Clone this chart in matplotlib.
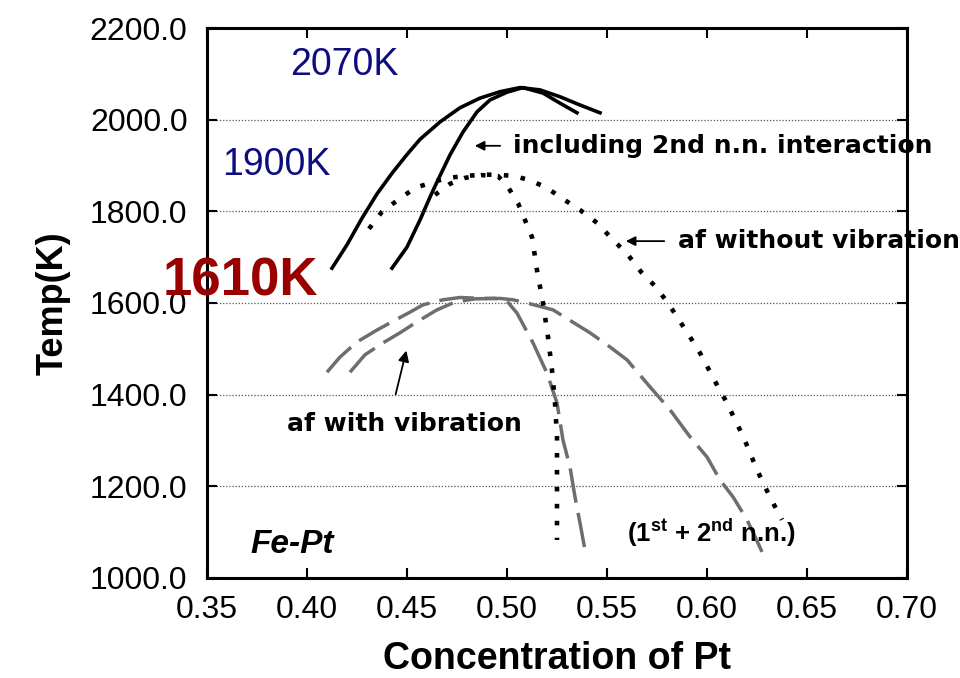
import matplotlib
matplotlib.use("Agg")
import matplotlib.pyplot as plt

plt.rcParams["mathtext.fontset"] = "custom"
plt.rcParams["mathtext.rm"] = "Liberation Sans:bold"
plt.rcParams["mathtext.bf"] = "Liberation Sans:bold"

# ordering temperature vs Pt concentration, Fe-Pt
# solid: including 2nd n.n. interaction
nn2_outer_x = [0.4125, 0.42, 0.4275, 0.435, 0.4425, 0.45, 0.4565, 0.4665, 0.4765,
               0.4865, 0.4965, 0.5065, 0.5165, 0.5265, 0.5365, 0.5465]
nn2_outer_t = [1676, 1727, 1785, 1838, 1883, 1924, 1957, 1995, 2026,
               2047, 2061, 2070, 2065, 2050, 2032, 2015]
nn2_inner_x = [0.4425, 0.45, 0.4565, 0.4615, 0.465, 0.4715, 0.478, 0.485,
               0.4915, 0.5, 0.508, 0.518, 0.5265, 0.535]
nn2_inner_t = [1676, 1722, 1781, 1831, 1864, 1923, 1973, 2017,
               2043, 2060, 2070, 2058, 2036, 2015]

# dotted: af without vibration
novib_outer_x = [0.431, 0.4375, 0.4455, 0.454, 0.463, 0.4705, 0.479, 0.4875,
                 0.4955, 0.5035, 0.5115, 0.52, 0.528, 0.5365, 0.545, 0.5525,
                 0.5605, 0.567, 0.574, 0.5805, 0.586, 0.5915, 0.5965, 0.601,
                 0.6055, 0.61, 0.614, 0.618, 0.6215, 0.625, 0.629, 0.633, 0.6375]
novib_outer_t = [1762, 1799, 1825, 1851, 1864, 1873, 1877, 1880,
                 1880, 1877, 1868, 1851, 1827, 1803, 1775, 1740,
                 1705, 1668, 1637, 1600, 1563, 1526, 1491, 1454,
                 1417, 1382, 1345, 1310, 1273, 1236, 1199, 1164, 1127]
novib_inner_x = [0.464, 0.4715, 0.479, 0.4875, 0.4955, 0.5005, 0.5055, 0.509,
                 0.5125, 0.515, 0.518, 0.5205, 0.5225, 0.524, 0.525, 0.525, 0.525]
novib_inner_t = [1836, 1860, 1873, 1879, 1877, 1853, 1818, 1781,
                 1744, 1672, 1600, 1526, 1454, 1382, 1308, 1199, 1083]

# dashed: af with vibration
vib_outer_x = [0.41, 0.4165, 0.425, 0.435, 0.4425, 0.4515, 0.458, 0.468, 0.4765,
               0.488, 0.4965, 0.503, 0.51, 0.523, 0.5415, 0.5515, 0.56, 0.5715,
               0.5815, 0.5915, 0.6, 0.6065, 0.613, 0.62, 0.6255, 0.6275]
vib_outer_t = [1449, 1482, 1515, 1541, 1559, 1580, 1596, 1607, 1612,
               1610, 1610, 1607, 1600, 1585, 1535, 1504, 1476, 1417,
               1367, 1308, 1264, 1214, 1177, 1127, 1076, 1057]
vib_inner_x = [0.4215, 0.429, 0.438, 0.4465, 0.455, 0.465, 0.474, 0.484, 0.494,
               0.5, 0.505, 0.513, 0.52, 0.525, 0.528, 0.5315, 0.534, 0.5365, 0.539]
vib_inner_t = [1449, 1487, 1513, 1535, 1559, 1585, 1602, 1609, 1610,
               1604, 1578, 1513, 1447, 1382, 1301, 1242, 1177, 1120, 1061]

x_ticks = [0.35, 0.40, 0.45, 0.50, 0.55, 0.60, 0.65, 0.70]
t_ticks = [1000, 1200, 1400, 1600, 1800, 2000, 2200]
grid_t = [1200, 1400, 1600, 1800, 2000]

fig = plt.figure(figsize=(9.6, 6.78), dpi=100)
ax = fig.add_axes([0.2156, 0.1475, 0.7292, 0.8112])

for y in grid_t:
    ax.axhline(y, color="#555555", lw=0.9, ls=(0, (1, 1.5)), zorder=1)

ax.plot(nn2_outer_x, nn2_outer_t, color="black", lw=2.6, zorder=3)
ax.plot(nn2_inner_x, nn2_inner_t, color="black", lw=2.6, zorder=3)
ax.plot(novib_outer_x, novib_outer_t, color="black", lw=3.3,
        ls=(0, (1, 2.7)), dash_capstyle="butt", zorder=3)
ax.plot(novib_inner_x, novib_inner_t, color="black", lw=3.3,
        ls=(0, (1, 2.7)), dash_capstyle="butt", zorder=3)
ax.plot(vib_outer_x, vib_outer_t, color="#6e6e6e", lw=2.5,
        ls=(0, (10, 3)), zorder=2)
ax.plot(vib_inner_x, vib_inner_t, color="#6e6e6e", lw=2.5,
        ls=(0, (10, 3)), zorder=2)

ax.set_xlim(0.35, 0.70)
ax.set_ylim(1000, 2200)
ax.set_xticks(x_ticks)
ax.set_yticks(t_ticks)
ax.set_xticklabels([f"{v:.2f}" for v in x_ticks])
ax.set_yticklabels([f"{v:.1f}" for v in t_ticks])
ax.tick_params(axis="both", direction="in", length=7, width=1.5,
               top=True, right=True, labelsize=23)
ax.tick_params(axis="x", pad=12)
ax.tick_params(axis="y", pad=14)
for lab in ax.get_xticklabels() + ax.get_yticklabels():
    lab.set_fontfamily("Liberation Sans")
for sp in ax.spines.values():
    sp.set_linewidth(2.2)

ax.set_xlabel("Concentration of Pt", fontsize=27, fontweight="bold",
              family="Liberation Sans", labelpad=12)
ax.set_ylabel("Temp(K)", fontsize=26, fontweight="bold",
              family="Liberation Sans", labelpad=14)

# peak temperature labels
ax.text(0.3915, 2119, "2070K", color="#0d0d80", fontsize=27,
        family="Liberation Sans", va="center", clip_on=False)
ax.text(0.3575, 1901, "1900K", color="#0d0d80", fontsize=27,
        family="Liberation Sans", va="center", clip_on=False)
ax.text(0.328, 1646, "1610K", color="#990000", fontsize=38, fontweight="bold",
        family="Liberation Sans", va="center", clip_on=False, zorder=5)

# curve annotations
ax.annotate("", xy=(0.4825, 1943), xytext=(0.498, 1943),
            arrowprops=dict(arrowstyle="-|>", color="black", lw=1.3,
                            mutation_scale=14))
ax.text(0.503, 1943, "including 2nd n.n. interaction", fontsize=18,
        fontweight="bold", family="DejaVu Sans", va="center", clip_on=False)
ax.annotate("", xy=(0.558, 1735), xytext=(0.58, 1735),
            arrowprops=dict(arrowstyle="-|>", color="black", lw=1.3,
                            mutation_scale=14))
ax.text(0.5855, 1735, "af without vibration", fontsize=18,
        fontweight="bold", family="DejaVu Sans", va="center", clip_on=False)
ax.annotate("", xy=(0.45, 1502), xytext=(0.444, 1395),
            arrowprops=dict(arrowstyle="-|>", color="black", lw=1.3,
                            mutation_scale=16))
ax.text(0.39, 1336, "af with vibration", fontsize=18,
        fontweight="bold", family="DejaVu Sans", va="center")
ax.text(0.3715, 1072, "Fe-Pt", fontsize=24, fontweight="bold",
        fontstyle="italic", family="Liberation Sans", va="center")
ax.text(0.56, 1098, r"(1$^{\mathbf{st}}$ + 2$^{\mathbf{nd}}$ n.n.)",
        fontsize=18.5, fontweight="bold", family="Liberation Sans", va="center")

fig.savefig("out.png", dpi=100)
